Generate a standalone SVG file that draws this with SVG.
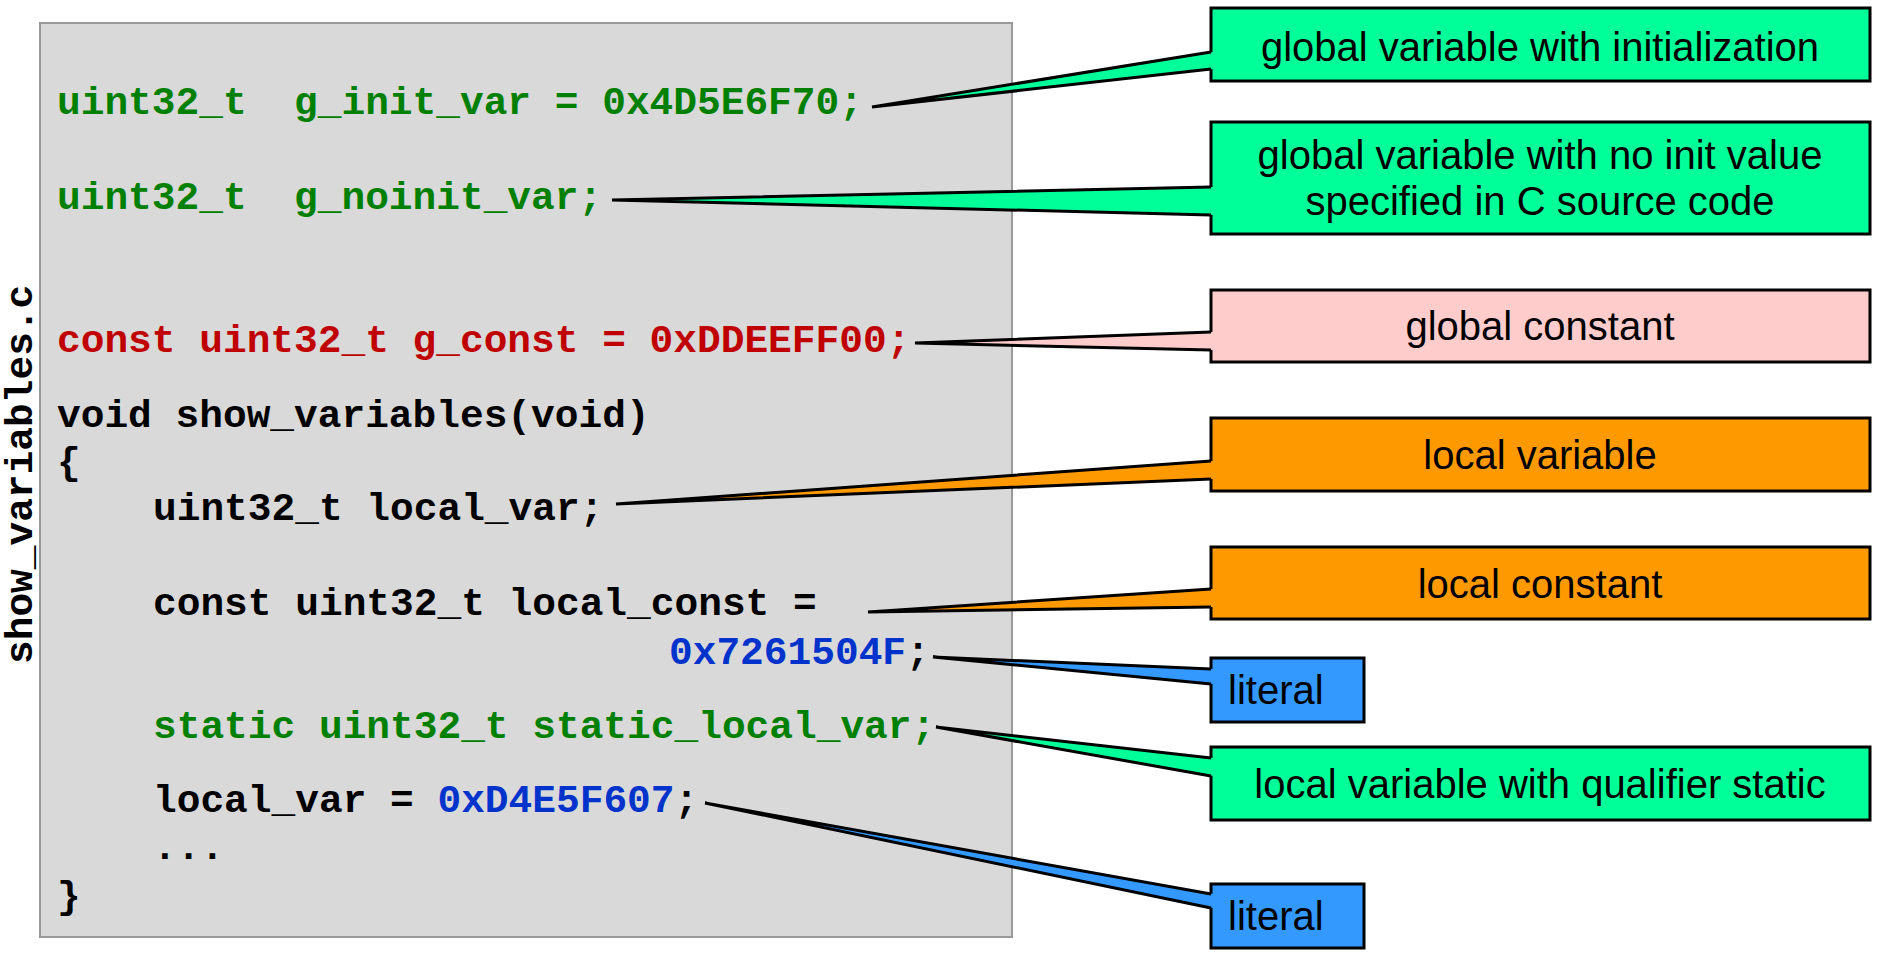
<svg xmlns="http://www.w3.org/2000/svg" width="1880" height="966" viewBox="0 0 1880 966">
<style>
.code{font-family:"Liberation Mono","DejaVu Sans Mono",monospace;font-weight:bold;font-size:39.5px;white-space:pre}
.k{fill:#000}
.g{fill:#008000}
.r{fill:#c00000}
.b{fill:#0033cc}
.lbl{font-family:"Liberation Sans",Arial,sans-serif;font-size:40px;fill:#000}
.c{text-anchor:middle}
.box{stroke:#000;stroke-width:3}
.grn{fill:#00ff99}
.pnk{fill:#ffcccc}
.org{fill:#ff9900}
.blu{fill:#3399ff}
.edge{fill:none;stroke:#000;stroke-width:3;stroke-linejoin:miter;stroke-miterlimit:3}
</style>
<rect width="1880" height="966" fill="#fff"/>
<g id="source">
<rect x="40" y="23" width="972" height="914" fill="#d9d9d9" stroke="#999" stroke-width="2"/>
<text class="code k" transform="translate(32,664) rotate(-90)">show_variables.c</text>
<text class="code g" x="57" y="114" xml:space="preserve">uint32_t  g_init_var = 0x4D5E6F70;</text>
<text class="code g" x="57" y="209" xml:space="preserve">uint32_t  g_noinit_var;</text>
<text class="code r" x="57" y="352">const uint32_t g_const = 0xDDEEFF00;</text>
<text class="code k" x="57" y="427">void show_variables(void)</text>
<text class="code k" x="57" y="474">{</text>
<text class="code k" x="153" y="520">uint32_t local_var;</text>
<text class="code k" x="153" y="615">const uint32_t local_const =</text>
<text class="code" x="669" y="664"><tspan class="b">0x7261504F</tspan><tspan class="k">;</tspan></text>
<text class="code g" x="153" y="738">static uint32_t static_local_var;</text>
<text class="code" x="153" y="812" xml:space="preserve"><tspan class="k">local_var = </tspan><tspan class="b">0xD4E5F607</tspan><tspan class="k">;</tspan></text>
<text class="code k" x="153" y="859">...</text>
<text class="code k" x="57" y="908">}</text>
</g>
<g id="n1"><rect class="box grn" x="1211" y="8" width="659" height="73"/><text class="lbl c" x="1540" y="61">global variable with initialization</text></g>
<g id="n2"><rect class="box grn" x="1211" y="122" width="659" height="112"/><text class="lbl c" x="1540" y="169">global variable with no init value</text><text class="lbl c" x="1540" y="215">specified in C source code</text></g>
<g id="n3"><rect class="box pnk" x="1211" y="290" width="659" height="72"/><text class="lbl c" x="1540" y="340">global constant</text></g>
<g id="n4"><rect class="box org" x="1211" y="418" width="659" height="73"/><text class="lbl c" x="1540" y="469">local variable</text></g>
<g id="n5"><rect class="box org" x="1211" y="547" width="659" height="72"/><text class="lbl c" x="1540" y="598">local constant</text></g>
<g id="n6"><rect class="box blu" x="1211" y="658" width="153" height="64"/><text class="lbl" x="1228" y="704">literal</text></g>
<g id="n7"><rect class="box grn" x="1211" y="747" width="659" height="73"/><text class="lbl c" x="1540" y="798">local variable with qualifier static</text></g>
<g id="n8"><rect class="box blu" x="1211" y="884" width="153" height="64"/><text class="lbl" x="1228" y="930">literal</text></g>
<g id="connectors">
<polygon class="grn" points="872,107 1213.5,52 1213.5,69"/><polyline class="edge" points="1211,52 872,107 1211,69"/>
<polygon class="grn" points="612,200 1213.5,187 1213.5,215"/><polyline class="edge" points="1211,187 612,200 1211,215"/>
<polygon class="pnk" points="915,343 1213.5,332 1213.5,350"/><polyline class="edge" points="1211,332 915,343 1211,350"/>
<polygon class="org" points="616,504 1213.5,461 1213.5,479"/><polyline class="edge" points="1211,461 616,504 1211,479"/>
<polygon class="org" points="868,612 1213.5,589 1213.5,607"/><polyline class="edge" points="1211,589 868,612 1211,607"/>
<polygon class="blu" points="933,657 1213.5,669 1213.5,684"/><polyline class="edge" points="1211,669 933,657 1211,684"/>
<polygon class="grn" points="936,727 1213.5,758 1213.5,776"/><polyline class="edge" points="1211,758 936,727 1211,776"/>
<polygon class="blu" points="705,803 1213.5,894 1213.5,908"/><polyline class="edge" points="1211,894 705,803 1211,908"/>
</g>
</svg>
